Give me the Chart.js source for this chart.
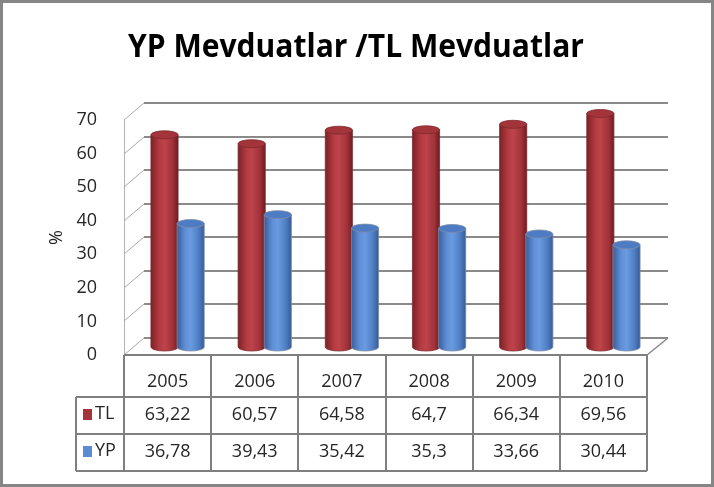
<!DOCTYPE html>
<html>
<head>
<meta charset="utf-8">
<script src="https://cdn.jsdelivr.net/npm/chart.js@4/dist/chart.umd.min.js"></script>
<style>
  body { margin: 0; background: #fff; }
  canvas { display: block; }
</style>
</head>
<body>
<canvas id="chart" width="714" height="487"></canvas>
<script>
var title = 'YP Mevduatlar /TL Mevduatlar';
var years = ['2005', '2006', '2007', '2008', '2009', '2010'];
var tlValues = [63.22, 60.57, 64.58, 64.7, 66.34, 69.56];
var ypValues = [36.78, 39.43, 35.42, 35.3, 33.66, 30.44];
var yTicks = [0, 10, 20, 30, 40, 50, 60, 70];

var FONT = "'Open Sans', 'DejaVu Sans', sans-serif";
var DX = 20, DY = -17;       // back wall offset
var MX = 10, MY = -8;        // depth where the cylinders stand

function fmt(v) {
    return String(v).replace('.', ',');
}

function cylinder(ctx, cx, top, bottom, w, c) {
    var rx = w / 2, ry = 4;
    var g = ctx.createLinearGradient(cx - rx, 0, cx + rx, 0);
    g.addColorStop(0, c[0]);
    g.addColorStop(0.3, c[1]);
    g.addColorStop(0.5, c[2]);
    g.addColorStop(0.8, c[3]);
    g.addColorStop(1, c[4]);
    ctx.beginPath();
    ctx.moveTo(cx - rx, top);
    ctx.lineTo(cx - rx, bottom);
    ctx.ellipse(cx, bottom, rx, ry, 0, Math.PI, 0, true);
    ctx.lineTo(cx + rx, top);
    ctx.closePath();
    ctx.fillStyle = g;
    ctx.fill();
    ctx.strokeStyle = c[6];
    ctx.lineWidth = 0.8;
    ctx.stroke();
    ctx.beginPath();
    ctx.ellipse(cx, top, rx, ry, 0, 0, Math.PI * 2);
    ctx.fillStyle = c[5];
    ctx.fill();
    ctx.stroke();
}

var redCyl = ['#7a2226', '#b23a40', '#bd444a', '#a2323a', '#6c1d21', '#a3343a', '#7d2a2e'];
var blueCyl = ['#3a5e9c', '#5f8fd6', '#6a9be0', '#4e7dc3', '#375a96', '#4d7cc4', '#7d8ba3'];

var scene3d = {
    id: 'scene3d',
    beforeDraw: function(chart) {
        var ctx = chart.ctx;
        ctx.save();
        ctx.fillStyle = '#fff';
        ctx.fillRect(0, 0, chart.width, chart.height);
        ctx.restore();
    },
    beforeDatasetsDraw: function(chart) {
        var ctx = chart.ctx, a = chart.chartArea, ys = chart.scales.y;
        ctx.save();
        // left wall front edge
        ctx.strokeStyle = '#b4b4b4';
        ctx.lineWidth = 1;
        ctx.beginPath();
        ctx.moveTo(a.left + 0.5, ys.getPixelForValue(70));
        ctx.lineTo(a.left + 0.5, a.bottom);
        ctx.stroke();
        yTicks.forEach(function(v) {
            var y = Math.round(ys.getPixelForValue(v));
            ctx.strokeStyle = '#a8a8a8';
            ctx.lineWidth = 1;
            ctx.beginPath();
            ctx.moveTo(a.left, y);
            ctx.lineTo(a.left + DX, y + DY);
            ctx.stroke();
            ctx.strokeStyle = '#8a8a8a';
            ctx.lineWidth = 2;
            ctx.beginPath();
            ctx.moveTo(a.left + DX, y + DY);
            ctx.lineTo(a.right + DX + 1, y + DY);
            ctx.stroke();
        });
        // floor right edge
        ctx.strokeStyle = '#8a8a8a';
        ctx.lineWidth = 1.5;
        ctx.beginPath();
        ctx.moveTo(a.right, a.bottom);
        ctx.lineTo(a.right + DX + 1, a.bottom + DY);
        ctx.stroke();
        ctx.restore();
    },
    afterDatasetsDraw: function(chart) {
        var ctx = chart.ctx;
        ctx.save();
        var m0 = chart.getDatasetMeta(0), m1 = chart.getDatasetMeta(1);
        for (var i = 0; i < years.length; i++) {
            [[m0, redCyl], [m1, blueCyl]].forEach(function(p) {
                var b = p[0].data[i].getProps(['x', 'y', 'base', 'width'], true);
                cylinder(ctx, b.x + MX, b.y + MY, b.base + MY, b.width + 1, p[1]);
            });
        }
        ctx.restore();
    },
    afterDraw: function(chart) {
        var ctx = chart.ctx, a = chart.chartArea, xs = chart.scales.x;
        var colW = (a.right - a.left) / years.length;
        var r0 = a.bottom, r1 = 397, r2 = 434, r3 = 471, lx = 76;
        ctx.save();
        // title
        ctx.fillStyle = '#000';
        ctx.font = 'bold 33px ' + FONT;
        ctx.textAlign = 'center';
        ctx.textBaseline = 'alphabetic';
        ctx.fillText(title, 356, 57, 456);

        // data table
        ctx.strokeStyle = '#7f7f7f';
        ctx.lineWidth = 2;
        ctx.beginPath();
        ctx.moveTo(a.left, r0); ctx.lineTo(a.right, r0);
        [r1, r2, r3].forEach(function(y) {
            ctx.moveTo(lx, y); ctx.lineTo(a.right, y);
        });
        ctx.moveTo(lx, r1); ctx.lineTo(lx, r3);
        for (var k = 0; k <= years.length; k++) {
            var x = Math.round(a.left + k * colW);
            ctx.moveTo(x, r0); ctx.lineTo(x, r3);
        }
        ctx.stroke();

        ctx.fillStyle = '#262626';
        ctx.font = '18px ' + FONT;
        ctx.textAlign = 'center';
        ctx.textBaseline = 'middle';
        years.forEach(function(yr, i) {
            var cx = xs.getPixelForValue(i);
            ctx.fillText(yr, cx, 382);
            ctx.fillText(fmt(tlValues[i]), cx, 415);
            ctx.fillText(fmt(ypValues[i]), cx, 452);
        });
        // legend keys
        ctx.textAlign = 'left';
        ctx.fillStyle = '#a3343a';
        ctx.fillRect(83, 409, 9, 11);
        ctx.fillStyle = '#5b8bd5';
        ctx.fillRect(83, 446, 9, 11);
        ctx.fillStyle = '#262626';
        ctx.fillText('TL', 95, 414);
        ctx.fillText('YP', 95, 451);

        // outer frame
        ctx.strokeStyle = '#868686';
        ctx.lineWidth = 3;
        ctx.strokeRect(1.5, 1.5, chart.width - 3, chart.height - 3);
        ctx.restore();
    }
};

new Chart(document.getElementById('chart'), {
    type: 'bar',
    data: {
        labels: years,
        datasets: [{
            label: 'TL',
            data: tlValues,
            backgroundColor: 'rgba(0,0,0,0)',
            categoryPercentage: 0.6,
            barPercentage: 1.0
        }, {
            label: 'YP',
            data: ypValues,
            backgroundColor: 'rgba(0,0,0,0)',
            categoryPercentage: 0.6,
            barPercentage: 1.0
        }]
    },
    options: {
        responsive: false,
        animation: false,
        layout: { padding: { left: 40, right: 67, top: 120, bottom: 132 } },
        plugins: {
            legend: { display: false },
            tooltip: { enabled: false }
        },
        scales: {
            x: { display: false },
            y: {
                min: 0,
                max: 70,
                afterFit: function(scale) { scale.width = 84; },
                afterBuildTicks: function(scale) {
                    scale.ticks = yTicks.map(function(v) { return { value: v }; });
                },
                grid: { display: false },
                border: { display: false },
                ticks: {
                    padding: 19,
                    color: '#262626',
                    font: { family: FONT, size: 18 }
                },
                title: {
                    display: true,
                    text: '%',
                    color: '#262626',
                    padding: { top: 6, bottom: 0 },
                    font: { family: FONT, size: 18 }
                }
            }
        }
    },
    plugins: [scene3d]
});
</script>
</body>
</html>
